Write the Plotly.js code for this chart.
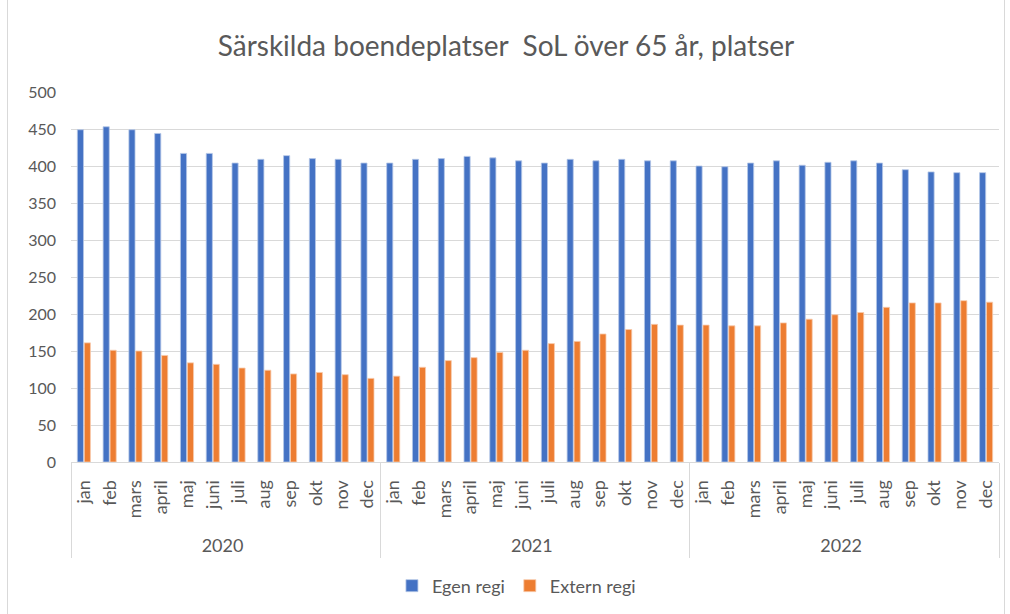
<!DOCTYPE html>
<html>
<head>
<meta charset="utf-8">
<script src="https://cdn.plot.ly/plotly-3.0.1.min.js"></script>
<style>
html,body{margin:0;padding:0;background:#fff;}
#frame{position:absolute;left:7px;top:-1px;width:996px;height:614px;border:1px solid #d9d9d9;}
#chart{width:996px;height:614px;}
</style>
</head>
<body>
<div id="frame"><div id="chart"></div></div>
<script>
const years = ["2020", "2021", "2022"];
const months = ["jan","feb","mars","april","maj","juni","juli","aug","sep","okt","nov","dec"];
const egenRegi = [
  449, 453, 449, 444, 417, 417, 404, 409, 414, 410, 409, 404,
  404, 409, 410, 413, 411, 407, 404, 409, 407, 409, 407, 407,
  400, 399, 404, 407, 401, 405, 407, 404, 395, 392, 391, 391
];
const externRegi = [
  161, 151, 150, 144, 134, 132, 127, 124, 119, 121, 118, 113,
  116, 128, 137, 141, 148, 151, 160, 163, 173, 179, 186, 185,
  185, 184, 184, 188, 193, 199, 202, 209, 215, 215, 218, 216
];

const xYear = [], xMonth = [];
years.forEach(y => months.forEach(m => { xYear.push(y); xMonth.push(m); }));

const font = "Lato, 'Open Sans', sans-serif";
const grey = "#595959";

const traces = [
  {type:"bar", name:"Egen regi", x:[xYear, xMonth], y:egenRegi,
   marker:{color:"#4472C4", line:{color:"rgba(180,199,231,0.8)", width:1}}},
  {type:"bar", name:"Extern regi", x:[xYear, xMonth], y:externRegi,
   marker:{color:"#ED7D31", line:{color:"rgba(248,203,173,0.8)", width:1}}}
];

const layout = {
  width: 996, height: 614,
  margin:{l:63, r:5, t:92, b:152, autoexpand:false},
  paper_bgcolor:"#fff", plot_bgcolor:"#fff",
  font:{family:font, color:grey, size:16},
  title:{text:"Särskilda boendeplatser  SoL över 65 år, platser", font:{family:font, size:28, color:grey}, x:0.5, xanchor:"center", y:0.925, yanchor:"middle"},
  barmode:"group", bargap:0.46, bargroupgap:0.12,
  showlegend:true,
  legend:{orientation:"h", x:0.48, xanchor:"center", y:-0.335, yanchor:"middle", font:{size:18, color:grey}, itemwidth:30, traceorder:"normal"},
  xaxis:{type:"multicategory", showline:true, linecolor:"#d9d9d9", linewidth:1,
    tickangle:-90, tickfont:{size:18, color:grey}, ticklabelstandoff:10,
    showdividers:true, dividercolor:"#d9d9d9", dividerwidth:1,
    ticks:"", showgrid:false},
  yaxis:{range:[0,500], dtick:50, showgrid:true, gridcolor:"#d9d9d9", gridwidth:1,
    zeroline:false, showline:false, ticks:"", ticklabelstandoff:14,
    tickfont:{size:16, color:grey}}
};

Plotly.newPlot("chart", traces, layout, {displayModeBar:false, staticPlot:true}).then(gd => {
  // push the year (outer category) labels and dividers down a little, like the original
  gd.querySelectorAll('.xtick2 text').forEach(t => {
    const tr = t.getAttribute('transform') || '';
    t.setAttribute('transform', 'translate(0,9) ' + tr);
  });
  gd.querySelectorAll('path.xdivider').forEach(p => {
    const d = p.getAttribute('d') || '';
    p.setAttribute('d', d.replace(/([vV])(-?[\d.]+)/, (m, c, n) => c + (parseFloat(n) + 10)));
  });
});
</script>
</body>
</html>
